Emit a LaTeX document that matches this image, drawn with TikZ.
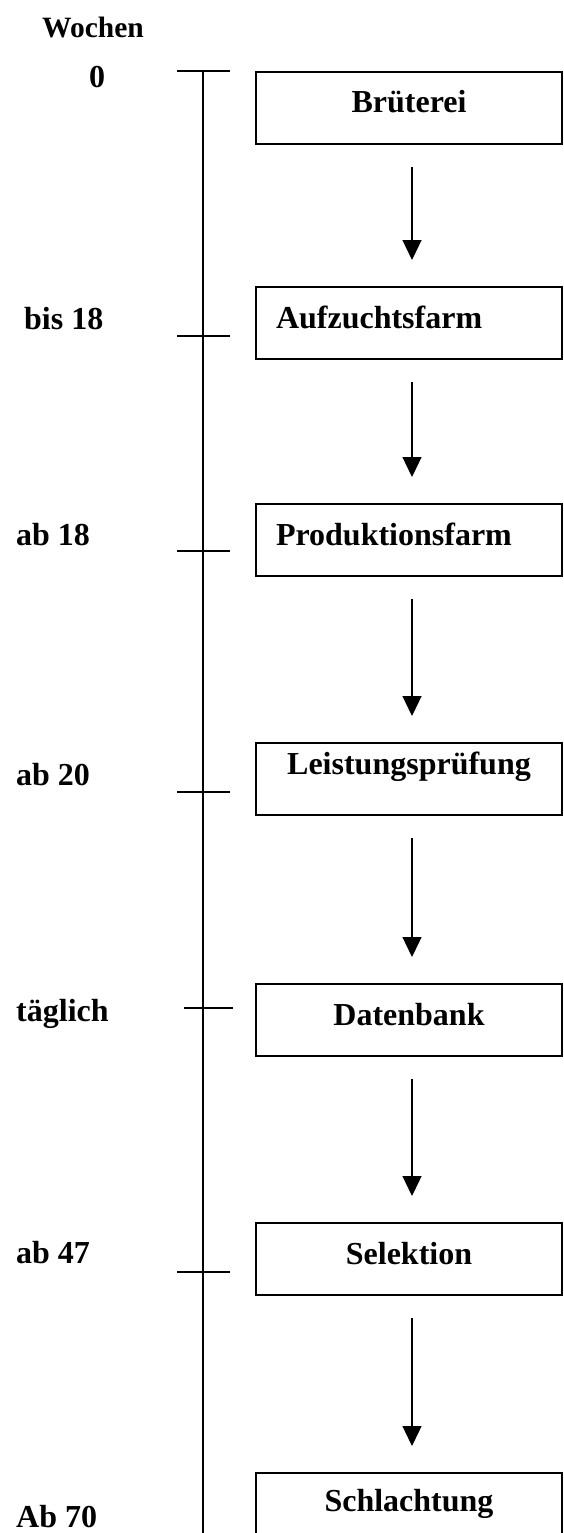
\documentclass[tikz,border=0pt]{standalone}
\usepackage{fontspec}
\setmainfont{Liberation Serif}
\usetikzlibrary{arrows.meta}
\begin{document}
\begin{tikzpicture}[x=1pt,y=-1pt,
  bigfont/.style={font=\fontsize{32}{38}\selectfont\bfseries},
  lbl/.style={bigfont, inner sep=0pt, anchor=base west},
  stage/.style={bigfont, draw, line width=1.8pt, anchor=north west, outer sep=0pt,
    inner xsep=20pt, inner ysep=0pt, text width=266pt, align=center,
    text height=41pt, text depth=31pt},
  stageleft/.style={stage, align=left},
  axisline/.style={line width=1.3pt},
  flow/.style={line width=1.3pt, -{Triangle[width=19pt,length=20pt]},
    shorten <=23pt, shorten >=27pt}]
\useasboundingbox (0,0) rectangle (563,1533);
\clip (0,0) rectangle (563,1533);

% time axis
\coordinate (axtop) at (203,71);
\coordinate (axbot) at (203,1545);
\draw[axisline] (axtop) -- (axbot);
\draw[axisline] (177,71) -- (230,71);
\draw[axisline] (177,336) -- (230,336);
\draw[axisline] (177,551) -- (230,551);
\draw[axisline] (177,792) -- (230,792);
\draw[axisline] (184,1008) -- (233,1008);
\draw[axisline] (177,1272) -- (230,1272);

% week labels
\node[lbl, font=\fontsize{29.5}{35}\selectfont\bfseries] (wochen) at (42,38) {Wochen};
\node[lbl] (w0) at (89,88) {0};
\node[lbl] (w18a) at (24,329) {bis 18};
\node[lbl] (w18b) at (16,545) {ab 18};
\node[lbl] (w20) at (16,785) {ab 20};
\node[lbl] (wt) at (16,1021) {täglich};
\node[lbl] (w47) at (16,1263) {ab 47};
\node[lbl] (w70) at (16,1527) {Ab 70};

% stages
\node[stage] (b1) at (256,72) {Brüterei};
\node[stageleft] (b2) at (256,287) {Aufzuchtsfarm};
\node[stageleft] (b3) at (256,504) {Produktionsfarm};
\node[stage, text height=31pt, text depth=41pt] (b4) at (256,743) {Leistungsprüfung};
\node[stage] (b5) at (256,984) {Datenbank};
\node[stage] (b6) at (256,1223) {Selektion};
\node[stage, text height=38pt, text depth=50pt] (b7) at (256,1473) {Schlachtung};

% flow arrows
\draw[flow] ([xshift=3pt]b1.south) -- ([xshift=3pt]b2.north);
\draw[flow] ([xshift=3pt]b2.south) -- ([xshift=3pt]b3.north);
\draw[flow] ([xshift=3pt]b3.south) -- ([xshift=3pt]b4.north);
\draw[flow] ([xshift=3pt]b4.south) -- ([xshift=3pt]b5.north);
\draw[flow] ([xshift=3pt]b5.south) -- ([xshift=3pt]b6.north);
\draw[flow] ([xshift=3pt]b6.south) -- ([xshift=3pt]b7.north);
\end{tikzpicture}
\end{document}
